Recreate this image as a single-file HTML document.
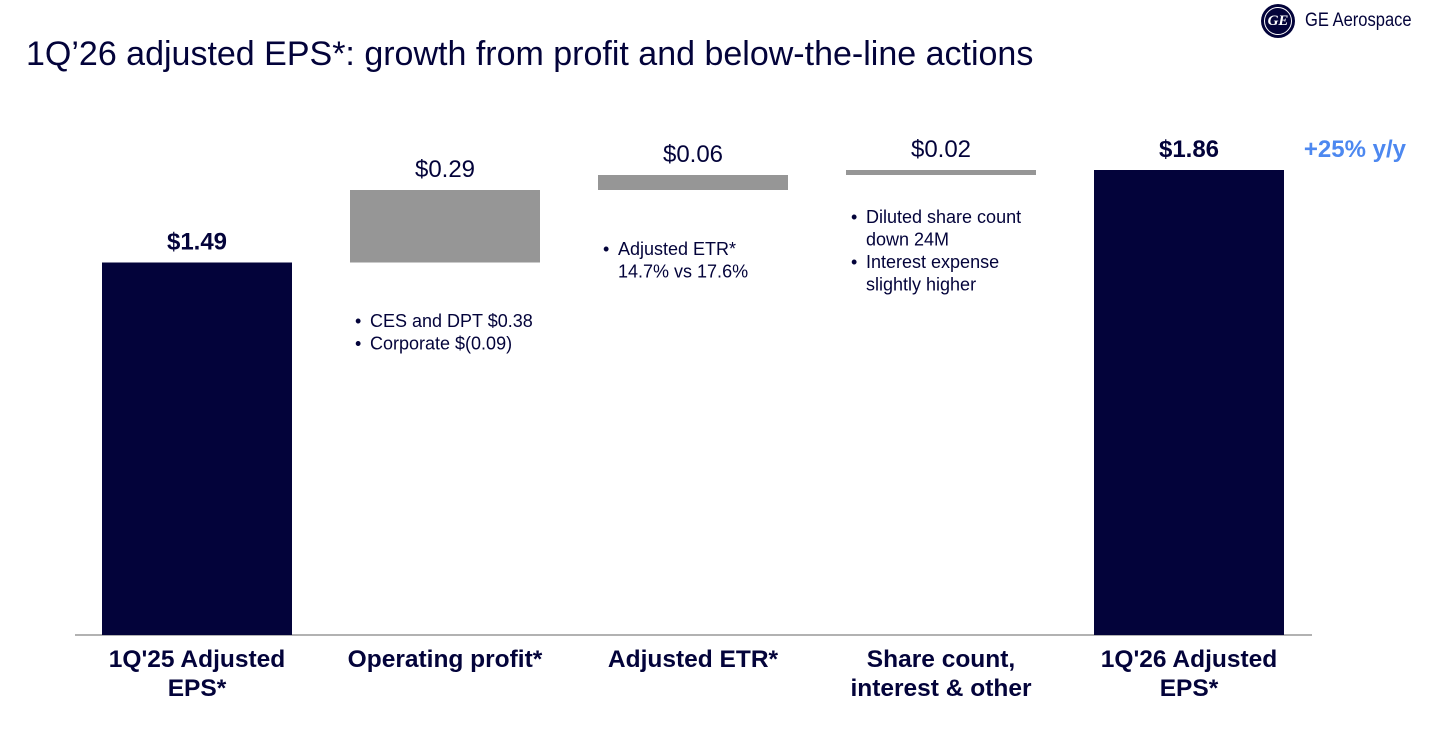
<!DOCTYPE html>
<html><head><meta charset="utf-8"><style>
body{margin:0;width:1436px;height:737px;background:#fff;overflow:hidden;font-family:"Liberation Sans",Arial,sans-serif;position:relative}
.t{position:absolute;white-space:nowrap}
</style></head><body>
<div class="t" style="left:26px;top:35px;font-size:34px;color:#03033a">1Q’26 adjusted EPS*: growth from profit and below-the-line actions</div>
<div style="position:absolute;left:1261px;top:4px;width:34px;height:34px;border-radius:50%;background:#03033a;color:#fff;font:italic bold 15px 'Liberation Serif',serif;display:flex;align-items:center;justify-content:center"><span style="border:1.5px solid #fff;border-radius:50%;width:26px;height:26px;display:flex;align-items:center;justify-content:center">GE</span></div>
<div class="t" style="left:1305px;top:10px;font-size:19px;color:#03033a;transform:scaleX(0.87);transform-origin:left">GE Aerospace</div>
<svg id="c" width="1436" height="737" style="position:absolute;left:0;top:0"></svg>
<script>
const categories=["1Q'25 Adjusted|EPS*","Operating profit*","Adjusted ETR*","Share count,|interest & other","1Q'26 Adjusted|EPS*"];
const values=[1.49,0.29,0.06,0.02,1.86];
const kinds=["total","delta","delta","delta","total"];
const valueLabels=["$1.49","$0.29","$0.06","$0.02","$1.86"];
const notes=[[],["CES and DPT $0.38","Corporate $(0.09)"],["Adjusted ETR*|14.7% vs 17.6%"],["Diluted share count|down 24M","Interest expense|slightly higher"],[]];
const noteTops=[0,312,240,208,0];
const base=635,scale=250,x0=102,step=248,bw=190;
const y=v=>base-v*scale;
const svg=document.getElementById('c');const NS='http://www.w3.org/2000/svg';
function mk(t,a,txt){const e=document.createElementNS(NS,t);for(const k in a)e.setAttribute(k,a[k]);if(txt!=null)e.textContent=txt;svg.appendChild(e);return e;}
let ax=mk('line',{x1:75,x2:1312,y1:base,y2:base,stroke:'#999','stroke-width':1.5});


let cum=0;
values.forEach((v,i)=>{
 let lo,hi;
 if(kinds[i]==='total'){lo=0;hi=v;cum=v;}else{lo=cum;hi=cum+v;cum=hi;}
 const x=x0+i*step;
 const r=mk('rect',{x:x,y:y(hi),width:bw,height:y(lo)-y(hi),fill:kinds[i]==='total'?'#03033a':'#969696'});
 
 
 const tot=kinds[i]==='total';
 const l=mk('text',{x:x+bw/2,y:y(hi)-13,'text-anchor':'middle','font-size':24,'font-weight':tot?'bold':'normal',fill:'#03033a'},valueLabels[i]);
 
 
 categories[i].split('|').forEach((s,j)=>{
  const c=mk('text',{x:x+bw/2,y:667+j*29,'text-anchor':'middle','font-size':24.5,'font-weight':'bold',fill:'#03033a'},s);
  
  
 });
 let ny=noteTops[i];
 notes[i].forEach(n=>{
  n.split('|').forEach((s,j)=>{
   if(j===0){const b=mk('text',{x:x+5,y:ny+15,'font-size':18,fill:'#03033a'},'•');
    
    }
   const t=mk('text',{x:x+20,y:ny+15,'font-size':18,fill:'#03033a'},s);
   
   
   ny+=22.5;
  });
 });
});
const g=mk('text',{x:1406,y:y(values[4])-13,'text-anchor':'end','font-size':24,'font-weight':'bold',fill:'#4d88f0'},'+25% y/y');


</script>
</body></html>
